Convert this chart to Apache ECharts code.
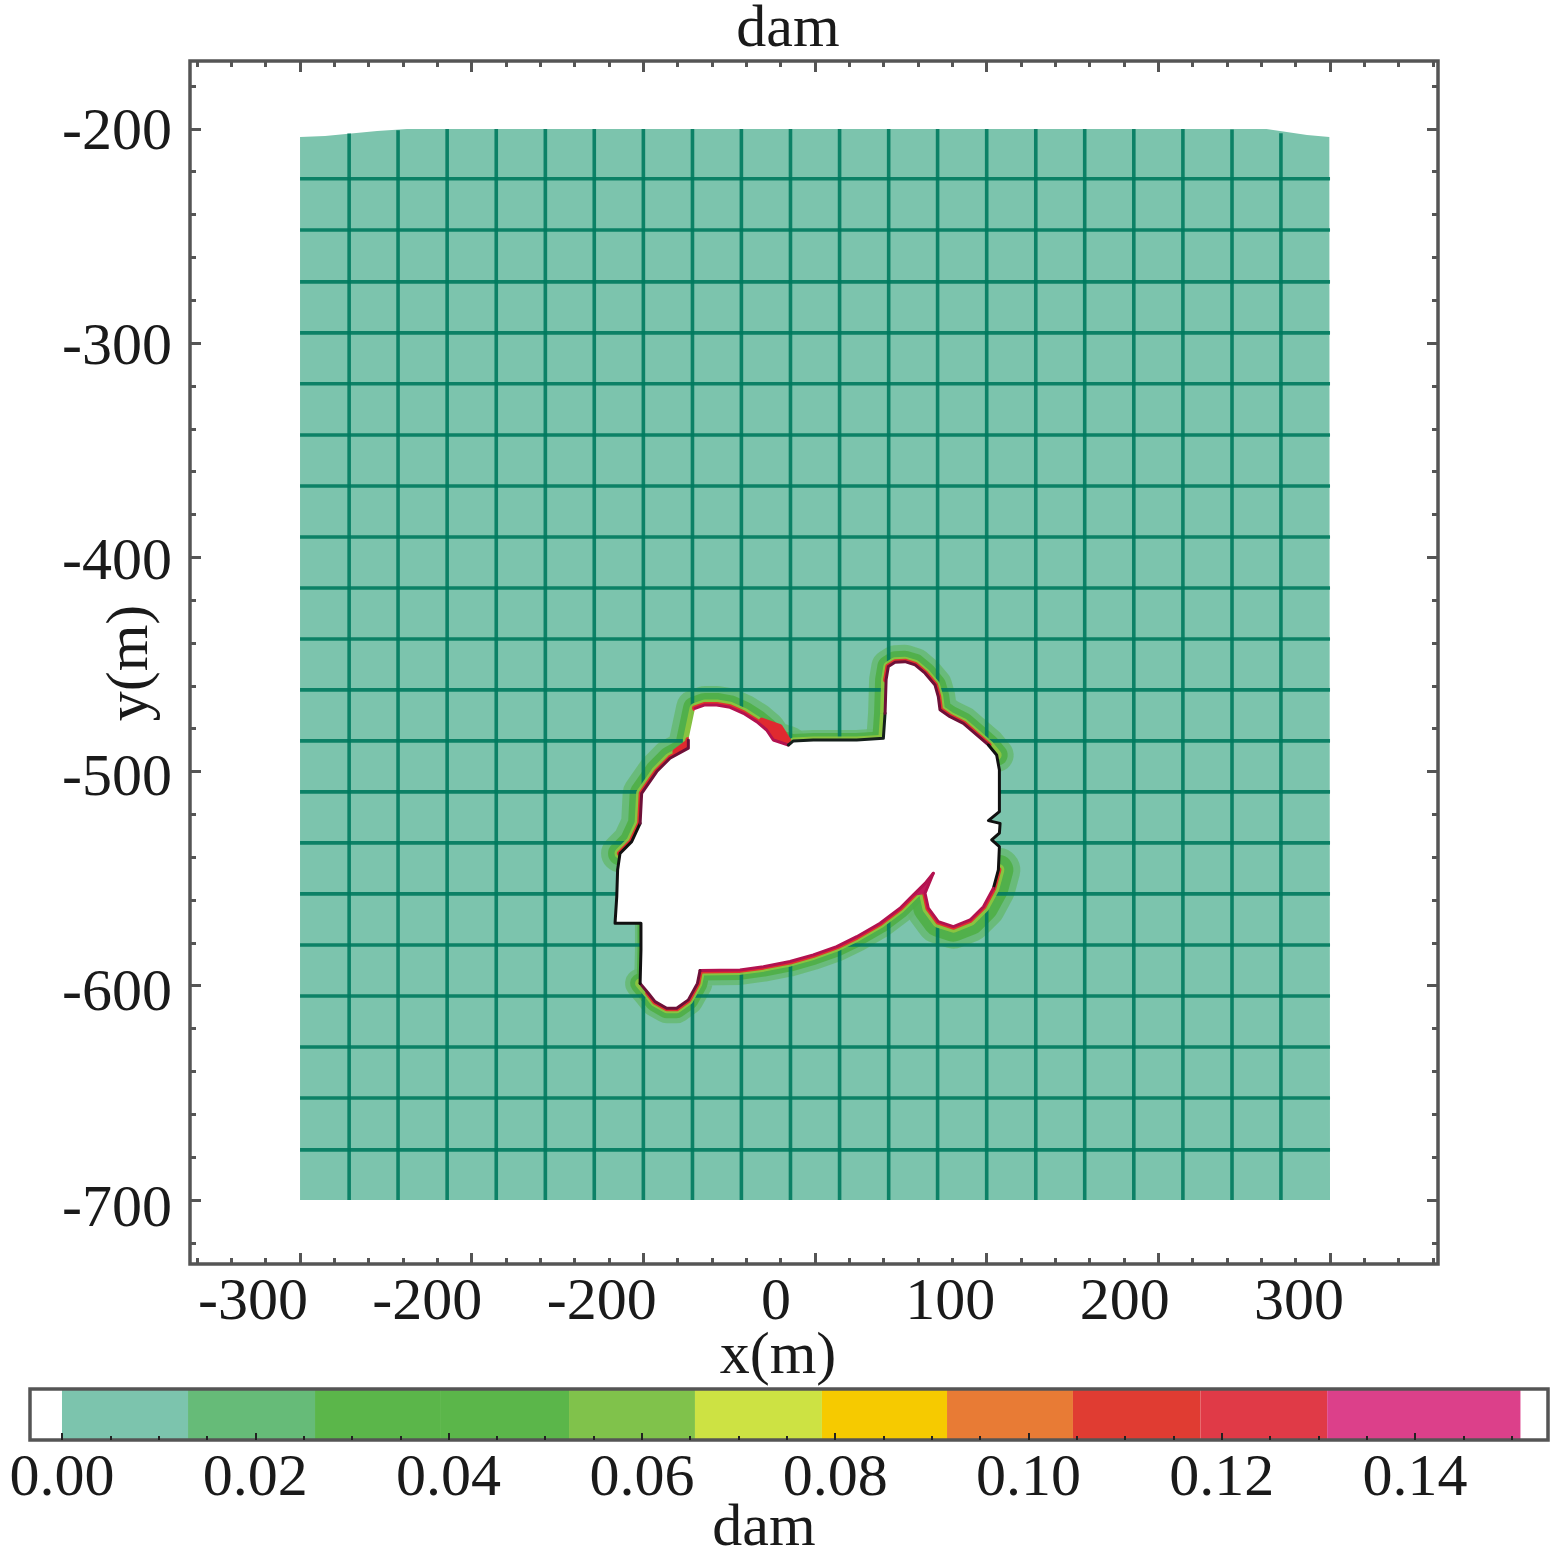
<!DOCTYPE html>
<html><head><meta charset="utf-8">
<style>html,body{margin:0;padding:0;background:#fff}#c{width:1557px;height:1554px}</style>
<script src="https://cdn.jsdelivr.net/npm/echarts@6/dist/echarts.min.js"></script>
</head><body><div id="c"></div>
<script>
const xTickValues=[-300,-200,-100,0,100,200,300];
const xTickLabels=['-300','-200','-200','0','100','200','300'];
const xMinorValues=[-360,-340,-320,-280,-260,-240,-220,-180,-160,-140,-120,-80,-60,-40,-20,20,40,60,80,120,140,160,180,220,240,260,280,320,340,360];
const yTickValues=[-200,-300,-400,-500,-600,-700];
const yMinorValues=[-180,-220,-240,-260,-280,-320,-340,-360,-380,-420,-440,-460,-480,-520,-540,-560,-580,-620,-640,-660,-680,-720];
const meshX=[-271.4,-242.9,-214.3,-185.7,-157.1,-128.6,-100,-71.4,-42.9,-14.3,14.3,42.9,71.4,100,128.6,157.1,185.7,214.3,242.9,271.4];
const meshXTop=[-202.2,-200.6,-200,-200,-200,-200,-200,-200,-200,-200,-200,-200,-200,-200,-200,-200,-200,-200,-200.3,-202];
const meshY=[-223.3,-247.2,-271.4,-295.2,-319,-342.9,-366.7,-390.5,-414.3,-438.1,-461.9,-485.7,-509.5,-533.3,-557.1,-581,-604.8,-628.6,-652.4,-676.6];
const domain=[[-300,-203.8],[-285.4,-203.3],[-255.1,-201],[-237.7,-200],[239,-200],[263,-200],[286.6,-202.8],[299.6,-203.8],[300,-700],[-300,-700]];
const hole=[[-69.9,-470.5],[-64.1,-468.9],[-57.3,-468.9],[-49.5,-470],[-41.7,-472.8],[-34,-476.7],[-28.2,-480.6],[-24.3,-485.3],[-15.5,-487.6],[-12.6,-485.7],[-1,-485.3],[24.3,-485.3],[39.8,-484.5],[40.8,-472.8],[41.4,-457.2],[42.7,-451],[46.6,-449],[52.4,-448.7],[58.3,-450.2],[64.1,-454.1],[69.9,-459.6],[71.8,-465],[72.8,-471.2],[78.6,-474.4],[86.4,-477.5],[94.2,-482.9],[101,-487.6],[105.8,-492.3],[107.4,-499.3],[107.4,-508.6],[107.4,-518.7],[101,-522.9],[107.8,-524.2],[107.4,-528.8],[102.9,-531.9],[107.4,-535.1],[106.8,-545.9],[103.9,-554.5],[98.1,-563.1],[90.3,-569.3],[80.6,-572.4],[71.8,-570.1],[66,-563.8],[64.1,-556.8],[68.9,-547.5],[64.1,-552.2],[57.3,-557.6],[49.5,-563.8],[37.9,-570.8],[24.3,-577.1],[12.6,-581.7],[-1,-585.6],[-14.6,-588.7],[-30.1,-591.1],[-43.7,-592.6],[-67,-592.9],[-68.5,-598.9],[-73.8,-606.6],[-80.6,-610.5],[-86.4,-610.5],[-93.2,-607.4],[-97.1,-603.5],[-101.9,-598.9],[-101.4,-583.3],[-101.4,-570.8],[-116.5,-570.8],[-115.5,-558.4],[-115,-545.9],[-113.6,-538.2],[-106.8,-532.7],[-101.9,-524.2],[-101,-510.2],[-92.2,-500],[-84.5,-493.8],[-73.8,-489.1],[-73.8,-485.3]];
const redPatchA=[[-81.6,-490.7],[-73.8,-486],[-72.8,-492.3]];
const redPatchB=[[-31.1,-476],[-20.4,-479],[-15.5,-485.3],[-24.3,-485.3]];
const magentaPatch=[[57.3,-557.6],[68.9,-547.5],[64.1,-556.8]];
const barBounds=[0,0.01304,0.02618,0.03921,0.05246,0.06549,0.07863,0.09157,0.1046,0.1178,0.1309,0.1509];
const barColors=['#7CC4AD','#66BB78','#5BB64A','#5BB64A','#80C24B','#CDE243','#F6CA00','#E87B35','#E03C32','#E03A47','#DC408A'];
const barTickValues=[0,0.02,0.04,0.06,0.08,0.10,0.12,0.14];
const barMinorValues=[0.005,0.01,0.015,0.025,0.03,0.035,0.045,0.05,0.055,0.065,0.07,0.075,0.085,0.09,0.095,0.105,0.11,0.115,0.125,0.13,0.135,0.145,0.15];

const FONT='"Liberation Serif",serif', TXT='#1a1a1a', FRAME='#555', MESH='#007A5E';
const X=[-364.1,362.9], Y=[-729.9,-168.3];
const serial=(a,b)=>hole.slice(a,b);
const halos=[
 {p:hole.slice(68).concat(serial(0,9)),w:[38,24,11]},
 {p:serial(8,13),w:[20,14,7]},
 {p:serial(12,28),w:[34,22,10]},
 {p:serial(36,44),w:[44,30,12]},
 {p:serial(44,63),w:[30,20,10]},
 {p:serial(62,65),w:[12,7,3]}
];
const line0={show:false,onZero:false};
const xAxisBase=(pos,ext)=>({type:'value',gridIndex:0,position:pos,min:ext[0],max:ext[1],scale:true,axisLine:line0,splitLine:{show:false},axisLabel:{show:false},axisTick:{show:false}});
const ticks=(vals,len,w)=>({show:true,inside:true,length:len,customValues:vals,lineStyle:{color:FRAME,width:w}});
const xAxes=[
 xAxisBase('bottom',X),
 Object.assign(xAxisBase('top',X),{axisTick:ticks(xTickValues,11,3)}),
 Object.assign(xAxisBase('bottom',X),{axisTick:ticks(xTickValues,11,3)}),
 Object.assign(xAxisBase('top',X),{axisTick:ticks(xMinorValues,6,3)}),
 Object.assign(xAxisBase('bottom',X),{axisTick:ticks(xMinorValues,6,3)}),
 Object.assign(xAxisBase('bottom',[-336.1,379.7]),{axisLabel:{show:true,customValues:xTickValues,margin:9,fontFamily:FONT,fontSize:60,color:TXT,hideOverlap:false,showMinLabel:true,showMaxLabel:true,formatter:v=>xTickLabels[xTickValues.indexOf(Math.round(v))]}}),
 {type:'value',gridIndex:1,position:'bottom',z:10,min:-0.00331,max:0.15375,axisLine:line0,splitLine:{show:false},axisTick:{show:true,inside:true,length:7,customValues:barTickValues,lineStyle:{color:'#222',width:2}},
  axisLabel:{show:true,customValues:barTickValues,margin:9,fontFamily:FONT,fontSize:60,color:TXT,formatter:v=>v.toFixed(2)}},
 {type:'value',gridIndex:1,position:'bottom',z:10,min:-0.00331,max:0.15375,axisLine:line0,splitLine:{show:false},axisLabel:{show:false},axisTick:{show:true,inside:true,length:4,customValues:barMinorValues,lineStyle:{color:'#222',width:2}}}
];
const yAxisBase=(pos,ext)=>({type:'value',gridIndex:0,position:pos,min:ext[0],max:ext[1],scale:true,axisLine:line0,splitLine:{show:false},axisLabel:{show:false},axisTick:{show:false}});
const yAxes=[
 yAxisBase('left',Y),
 Object.assign(yAxisBase('left',Y),{axisTick:ticks(yTickValues,11,3)}),
 Object.assign(yAxisBase('right',Y),{axisTick:ticks(yTickValues,11,3)}),
 Object.assign(yAxisBase('left',Y),{axisTick:ticks(yMinorValues,6,3)}),
 Object.assign(yAxisBase('right',Y),{axisTick:ticks(yMinorValues,6,3)}),
 Object.assign(yAxisBase('left',[-725.1,-166.6]),{axisLabel:{show:true,customValues:yTickValues,margin:18,fontFamily:FONT,fontSize:60,color:TXT,formatter:v=>String(Math.round(v))}}),
 {type:'value',gridIndex:1,min:0,max:1,axisLine:line0,splitLine:{show:false},axisLabel:{show:false},axisTick:{show:false}}
];
function path(name,pts,style,closed){
 return {type:'custom',name,coordinateSystem:'cartesian2d',xAxisIndex:0,yAxisIndex:0,silent:true,data:pts,encode:{x:0,y:1},animation:false,
  renderItem:(p,api)=>p.dataIndex!==0?null:{type:closed?'polygon':'polyline',shape:{points:pts.map(q=>api.coord(q))},style:Object.assign({lineJoin:'round',lineCap:'round'},style)}};
}
const series=[];
series.push(path('domain',domain,{fill:'#7CC4AD'},true));
halos.forEach(h=>series.push(path('halo',h.p,{fill:'none',stroke:'#66BA72',lineWidth:h.w[0],opacity:.85})));
halos.forEach(h=>series.push(path('halo',h.p,{fill:'none',stroke:'#4FAF46',lineWidth:h.w[1],opacity:.9})));
const segs=[];
meshY.forEach(y=>segs.push([-300,y,300,y]));
meshX.forEach((x,i)=>segs.push([x,meshXTop[i],x,-700]));
series.push({type:'custom',name:'mesh',coordinateSystem:'cartesian2d',xAxisIndex:0,yAxisIndex:0,silent:true,animation:false,data:segs,encode:{x:[0,2],y:[1,3]},
 renderItem:(p,api)=>{const a=api.coord([api.value(0),api.value(1)]),b=api.coord([api.value(2),api.value(3)]);
  return {type:'line',shape:{x1:a[0],y1:a[1],x2:b[0],y2:b[1]},style:{stroke:MESH,lineWidth:3.6,opacity:.9}};}});
halos.slice(0,5).forEach(h=>series.push(path('halo',h.p,{fill:'none',stroke:'#8FC63F',lineWidth:h.w[2],opacity:.9})));
[serial(0,9),hole.slice(68),serial(14,27),serial(36,44),serial(44,62)].forEach(p=>series.push(path('edge',p,{fill:'none',stroke:'#E0322F',lineWidth:6})));
series.push(path('spot',redPatchA,{fill:'#E02A30',stroke:'#E02A30',lineWidth:5},true));
series.push(path('spot',redPatchB,{fill:'#E02A30',stroke:'#E02A30',lineWidth:5},true));
series.push(path('hole',hole,{fill:'#fff'},true));
series.push(path('spot',magentaPatch,{fill:'#C2185B',stroke:'#C2185B',lineWidth:1},true));
[[serial(0,9),'#B3124F'],[serial(8,14),'#15201c'],[serial(13,27),'#6E1038'],[serial(26,38),'#111'],[serial(37,45),'#B3124F'],[serial(44,56),'#B3124F'],[serial(55,63),'#6E1038'],[serial(62,71),'#111'],[hole.slice(70),'#6E1038']].forEach(s=>series.push(path('edge',s[0],{fill:'none',stroke:s[1],lineWidth:3})));
series.push({type:'custom',name:'dam scale',coordinateSystem:'cartesian2d',xAxisIndex:6,yAxisIndex:6,silent:true,animation:false,
 data:barColors.map((c,i)=>[barBounds[i],barBounds[i+1]]),encode:{x:[0,1]},
 renderItem:(p,api)=>{const a=api.coord([api.value(0),1]),b=api.coord([api.value(1),0]);
  return {type:'rect',shape:{x:a[0],y:a[1],width:b[0]-a[0],height:b[1]-a[1]},style:{fill:barColors[p.dataIndex]}};}});
const label=(text,x,y,size,rot)=>({type:'text',x,y,rotation:rot||0,silent:true,z:100,style:{text,fontFamily:FONT,fontSize:size,fill:TXT,align:'center',verticalAlign:'middle'}});
const chart=echarts.init(document.getElementById('c'),null,{renderer:'canvas'});
chart.setOption({animation:false,backgroundColor:'#fff',
 grid:[{left:190,top:61,width:1248,height:1203,show:true,borderColor:FRAME,borderWidth:3.5,backgroundColor:'transparent',z:3},
       {left:30,top:1389,width:1518,height:51,show:true,borderColor:FRAME,borderWidth:3.5,backgroundColor:'transparent',z:3}],
 xAxis:xAxes,yAxis:yAxes,series,
 graphic:[label('dam',788,30,60),label('x(m)',778,1357,60),label('dam',764,1529,60),label('y(m)',131,663,60,Math.PI/2)]
});
</script></body></html>
